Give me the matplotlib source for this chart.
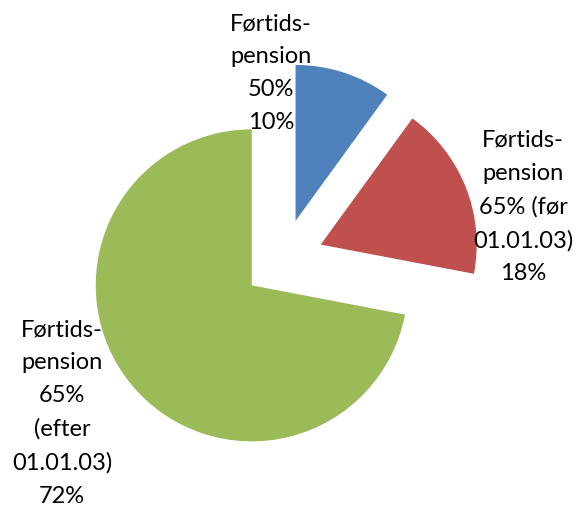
import matplotlib
matplotlib.use("Agg")
import matplotlib.pyplot as plt

categories = ["Førtids-\npension\n50%", "Førtids-\npension\n65% (før\n01.01.03)", "Førtids-\npension\n65%\n(efter\n01.01.03)"]
values = [10, 18, 72]
colors = ["#4F81BD", "#C0504D", "#9BBB59"]

W, H = 577, 507
fig = plt.figure(figsize=(W / 100, H / 100), dpi=100)
ax = fig.add_axes([0, 0, 1, 1])
R = 156.0
cx, cy = 283.0, 259.5
ax.pie(values, colors=colors, startangle=90, counterclock=False,
       explode=[0.26] * len(values), radius=1.0,
       wedgeprops=dict(linewidth=0))
ax.set_xlim(-cx / R, (W - cx) / R)
ax.set_ylim(-(H - cy) / R, cy / R)
ax.set_aspect('auto')
ax.axis('off')

label_pos = [(271, 73), (523, 207), (62, 413)]
for cat, v, (px, py) in zip(categories, values, label_pos):
    ax.text(px / W, 1 - py / H, f"{cat}\n{v}%", transform=ax.transAxes,
            ha='center', va='center', multialignment='center',
            fontsize=17, family='Lato', linespacing=1.70, color='black')

fig.savefig("out.png", dpi=100)
